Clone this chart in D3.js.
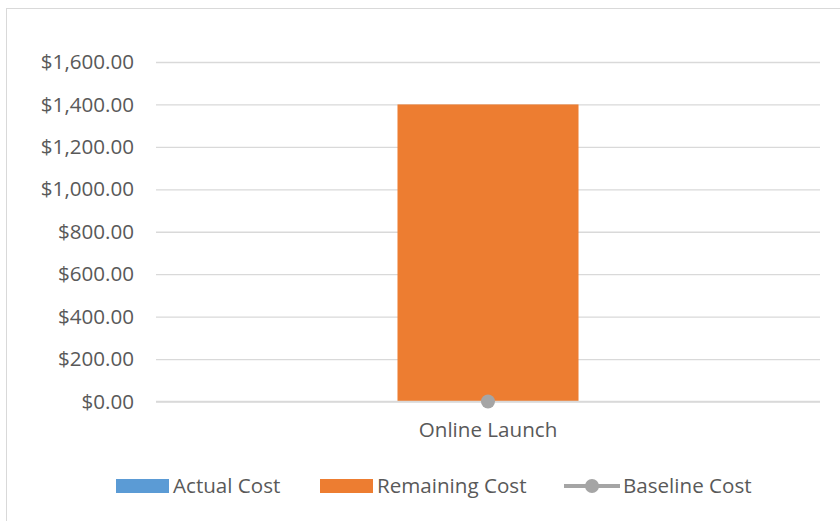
<!DOCTYPE html>
<html>
<head>
<meta charset="utf-8">
<script src="https://cdnjs.cloudflare.com/ajax/libs/d3/7.8.5/d3.min.js"></script>
<style>
  body { margin: 0; background: #fff; }
  text { font-family: "Open Sans", Lato, sans-serif; fill: #595959; }
</style>
</head>
<body>
<script>
// chart data
const categories = ["Online Launch"];
const actualCost = [0];
const remainingCost = [1400];
const baselineCost = [0];
const yTicks = [0, 200, 400, 600, 800, 1000, 1200, 1400, 1600];
const legendNames = ["Actual Cost", "Remaining Cost", "Baseline Cost"];

const w = 840, h = 521;
const colors = { actual: "#5B9BD5", remaining: "#ED7D31", baseline: "#A5A5A5" };
const fs = 20.6;

const svg = d3.select("body").append("svg")
  .attr("width", w)
  .attr("height", h);

// chart frame
svg.append("rect")
  .attr("x", 6.5).attr("y", 8.5)
  .attr("width", 840).attr("height", 520)
  .attr("fill", "#fff")
  .attr("stroke", "#d9d9d9");

const xScale = d3.scaleBand()
  .domain(categories)
  .range([156, 820])
  .paddingInner(0.5)
  .paddingOuter(0.667);

const yScale = d3.scaleLinear()
  .domain([0, 1600])
  .range([401.5, 62]);

// gridlines + tick labels
const yAxis = d3.axisLeft(yScale)
  .tickValues(yTicks)
  .tickSize(-(820 - 156))
  .tickPadding(22)
  .tickFormat(d => "$" + d3.format(",.2f")(d));

const gy = svg.append("g")
  .attr("transform", "translate(156,0)")
  .call(yAxis);
gy.select(".domain").remove();
gy.selectAll(".tick line").attr("stroke", "#d9d9d9").attr("stroke-width", 1.3);
gy.selectAll(".tick text").attr("font-size", fs).style("fill", "#595959");

// stacked bars
const stackData = categories.map((c, i) => ({ cat: c, actual: actualCost[i], remaining: remainingCost[i] }));
const stack = d3.stack().keys(["actual", "remaining"])(stackData);

svg.append("g").selectAll("g")
  .data(stack)
  .enter().append("g")
  .attr("fill", d => colors[d.key])
  .selectAll("rect")
  .data(d => d)
  .enter().append("rect")
  .attr("x", d => xScale(d.data.cat))
  .attr("width", xScale.bandwidth())
  .attr("y", d => yScale(d[1]))
  .attr("height", d => yScale(d[0]) - yScale(d[1]));

// baseline at 0
svg.append("line")
  .attr("x1", 156).attr("x2", 820)
  .attr("y1", yScale(0)).attr("y2", yScale(0))
  .attr("stroke", "#d9d9d9").attr("stroke-width", 1.3);

// baseline cost series (line with markers)
const line = d3.line()
  .x((d, i) => xScale(categories[i]) + xScale.bandwidth() / 2)
  .y(d => yScale(d));
svg.append("path")
  .datum(baselineCost)
  .attr("d", line)
  .attr("fill", "none")
  .attr("stroke", colors.baseline)
  .attr("stroke-width", 4);
svg.selectAll(".dot")
  .data(baselineCost)
  .enter().append("circle")
  .attr("class", "dot")
  .attr("cx", (d, i) => xScale(categories[i]) + xScale.bandwidth() / 2)
  .attr("cy", d => yScale(d))
  .attr("r", 7)
  .attr("fill", colors.baseline);

// category labels
const xAxis = d3.axisBottom(xScale).tickSize(0).tickPadding(21);
const gx = svg.append("g")
  .attr("transform", "translate(0," + yScale(0) + ")")
  .call(xAxis);
gx.select(".domain").remove();
gx.selectAll(".tick text").attr("font-size", fs).style("fill", "#595959");

// legend
const legendY = 486;
const legend = svg.append("g");
const lx = [116, 320, 564];

legend.append("rect").attr("x", lx[0]).attr("y", legendY - 7).attr("width", 53).attr("height", 14).attr("fill", colors.actual);
legend.append("rect").attr("x", lx[1]).attr("y", legendY - 7).attr("width", 53).attr("height", 14).attr("fill", colors.remaining);
legend.append("line").attr("x1", lx[2]).attr("x2", lx[2] + 56).attr("y1", legendY).attr("y2", legendY)
  .attr("stroke", colors.baseline).attr("stroke-width", 4);
legend.append("circle").attr("cx", lx[2] + 28).attr("cy", legendY).attr("r", 7).attr("fill", colors.baseline);

const textX = [lx[0] + 57, lx[1] + 57, lx[2] + 59];
legend.selectAll("text.lg")
  .data(legendNames)
  .enter().append("text")
  .attr("class", "lg")
  .attr("x", (d, i) => textX[i])
  .attr("y", legendY)
  .attr("dy", "0.35em")
  .attr("font-size", fs)
  .text(d => d);
</script>
</body>
</html>
